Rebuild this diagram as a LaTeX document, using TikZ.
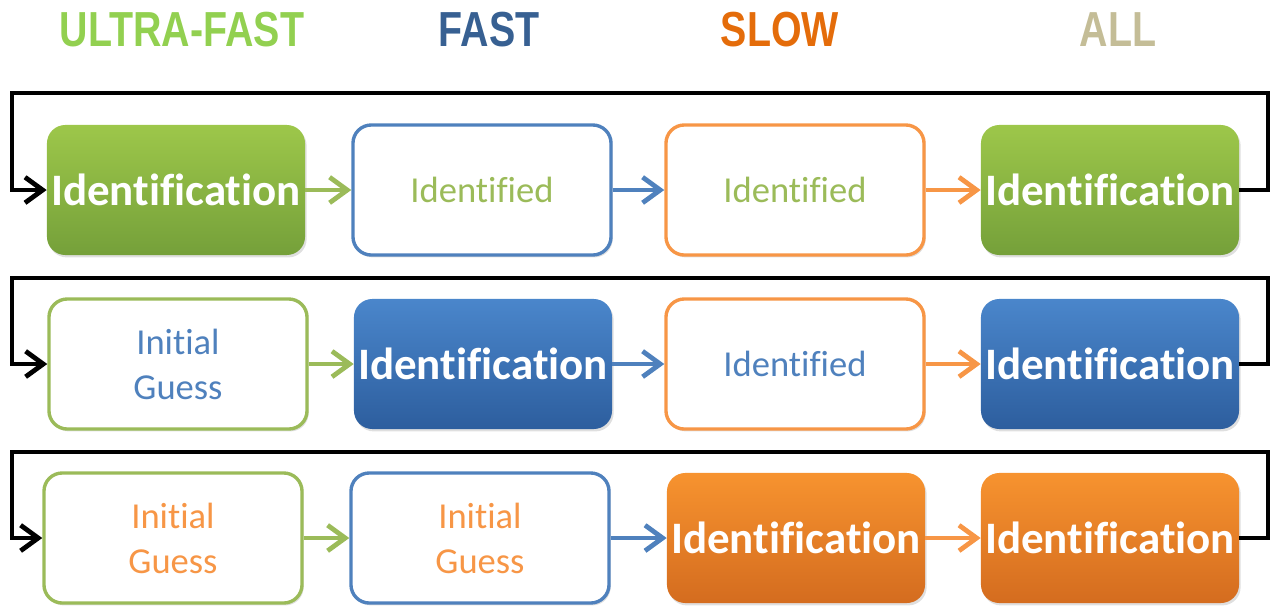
\documentclass[tikz,border=0pt]{standalone}
\usepackage{fontspec}
\setmainfont[Ligatures={NoCommon}]{Carlito}
\newfontfamily\headfont{Liberation Sans}
\usetikzlibrary{arrows.meta,shadows}
\definecolor{ufgreen}{HTML}{92D050}
\definecolor{fblue}{HTML}{376092}
\definecolor{sorange}{HTML}{E46C0A}
\definecolor{allgray}{HTML}{C4BD97}
\definecolor{gline}{HTML}{9BBB59}
\definecolor{bline}{HTML}{4F81BD}
\definecolor{oline}{HTML}{F79646}
\definecolor{gtop}{HTML}{9DC74A}
\definecolor{gbot}{HTML}{75A03A}
\definecolor{btop}{HTML}{4A86CB}
\definecolor{bbot}{HTML}{2D5E9E}
\definecolor{otop}{HTML}{F7932F}
\definecolor{obot}{HTML}{D46C1F}
\tikzset{
  head/.style={font=\headfont\bfseries\fontsize{35}{38}\selectfont},
  stage/.style={rounded corners=13pt,minimum width=6.45cm,minimum height=3.25cm,
    inner sep=0pt,drop shadow={opacity=0.25,shadow xshift=0.04cm,shadow yshift=-0.06cm}},
  runbox/.style={stage,draw=none,text=white,
    font=\bfseries\fontsize{32}{36}\selectfont},
  gbox/.style={runbox,top color=gtop,bottom color=gbot},
  bbox/.style={runbox,top color=btop,bottom color=bbot},
  obox/.style={runbox,top color=otop,bottom color=obot},
  donebox/.style={stage,fill=white,line width=2.4pt,align=center,
    font=\fontsize{26}{32}\selectfont},
  flow/.style={-{Straight Barb[length=4.4mm,width=6.4mm]},line width=3.4pt},
  back/.style={-{Straight Barb[length=4.4mm,width=6.4mm]},line width=3.4pt,black},
}
\begin{document}
\begin{tikzpicture}[x=0.025cm,y=-0.025cm]
  \useasboundingbox (0,0) rectangle (1278,607);
  % speed classes
  \node[head,text=ufgreen] (hu) at (182,30) {\scalebox{0.8}[1]{ULTRA-FAST}};
  \node[head,text=fblue] (hf) at (489,30) {\scalebox{0.8}[1]{FAST}};
  \node[head,text=sorange] (hs) at (780,30) {\scalebox{0.8}[1]{SLOW}};
  \node[head,text=allgray] (ha) at (1118,30) {\scalebox{0.8}[1]{ALL}};
  % row 1
  \node[gbox] (r1a) at (176,190) {Identification};
  \node[donebox,draw=bline,text=gline] (r1b) at (482,190) {Identified};
  \node[donebox,draw=oline,text=gline] (r1c) at (795,190) {Identified};
  \node[gbox] (r1d) at (1110,190) {Identification};
  % row 2
  \node[donebox,draw=gline,text=bline] (r2a) at (178,364) {Initial\\Guess};
  \node[bbox] (r2b) at (483,364) {Identification};
  \node[donebox,draw=oline,text=bline] (r2c) at (795,364) {Identified};
  \node[bbox] (r2d) at (1110,364) {Identification};
  % row 3
  \node[donebox,draw=gline,text=oline] (r3a) at (173,538) {Initial\\Guess};
  \node[donebox,draw=bline,text=oline] (r3b) at (480,538) {Initial\\Guess};
  \node[obox] (r3c) at (796,538) {Identification};
  \node[obox] (r3d) at (1110,538) {Identification};
  % forward arrows
  \foreach \r in {1,2,3}{
    \draw[flow,gline] (r\r a.east) -- (r\r b.west);
    \draw[flow,bline] (r\r b.east) -- (r\r c.west);
    \draw[flow,oline] (r\r c.east) -- (r\r d.west);
  }
  % feedback loops
  \coordinate (t1r) at (1268,93);  \coordinate (t1l) at (12,93);
  \coordinate (t2r) at (1268,278); \coordinate (t2l) at (12,278);
  \coordinate (t3r) at (1268,452); \coordinate (t3l) at (12,452);
  \foreach \r in {1,2,3}
    \draw[back] (r\r d.east) -| (t\r r) -- (t\r l) |- (r\r a.west);
\end{tikzpicture}
\end{document}
